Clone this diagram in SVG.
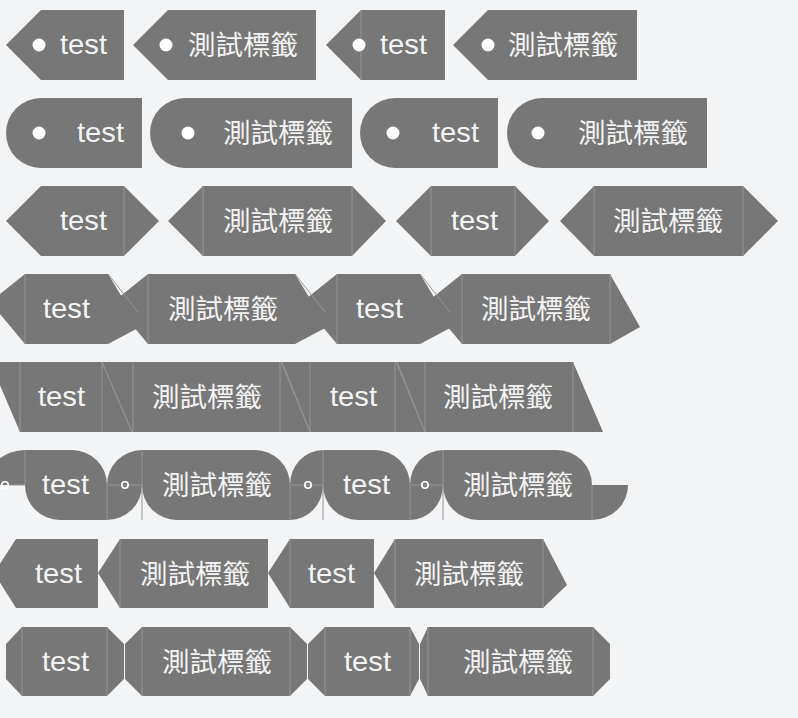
<svg xmlns="http://www.w3.org/2000/svg" width="798" height="718" viewBox="0 0 798 718">
<style>
.bg{fill:#f3f4f6}
.t{fill:#777777}
.sep{stroke:#979797;stroke-width:1;fill:none}
.dot{fill:#ffffff}
.ring{fill:none;stroke:#ffffff;stroke-width:1.6}
.en{fill:#f4f4f4;font-family:"Liberation Sans","Noto Sans",sans-serif;font-size:28px}
.zh{fill:#f4f4f4;font-family:"Noto Sans CJK TC","Noto Sans CJK SC",sans-serif;font-size:27px}
</style>
<rect class="bg" x="0" y="0" width="798" height="718"/>

<!-- Row 1 -->
<g id="r1t1"><polygon class="t" points="6,45 41,10 124,10 124,80 41,80"/><circle class="dot" cx="39" cy="45" r="6.5"/><text class="en" x="60" y="54" textLength="47" lengthAdjust="spacingAndGlyphs">test</text></g>
<g id="r1t2"><polygon class="t" points="133,45 168,10 316,10 316,80 168,80"/><circle class="dot" cx="166" cy="45" r="6.5"/><text class="zh" x="188" y="55" textLength="110" lengthAdjust="spacingAndGlyphs">測試標籤</text></g>
<g id="r1t3"><polygon class="t" points="326,45 361,10 445,10 445,80 361,80"/><line class="sep" x1="361" y1="10" x2="361" y2="80"/><circle class="dot" cx="359" cy="45" r="6.5"/><text class="en" x="380" y="54" textLength="47" lengthAdjust="spacingAndGlyphs">test</text></g>
<g id="r1t4"><polygon class="t" points="453,45 488,10 637,10 637,80 488,80"/><circle class="dot" cx="488" cy="45" r="6.5"/><text class="zh" x="508" y="55" textLength="110" lengthAdjust="spacingAndGlyphs">測試標籤</text></g>

<!-- Row 2 -->
<g id="r2t1"><path class="t" d="M41,98 H142 V168 H41 A35,35 0 0 1 41,98 Z"/><circle class="dot" cx="39" cy="133" r="6.5"/><text class="en" x="77" y="142" textLength="47" lengthAdjust="spacingAndGlyphs">test</text></g>
<g id="r2t2"><path class="t" d="M185,98 H352 V168 H185 A35,35 0 0 1 185,98 Z"/><circle class="dot" cx="188" cy="133" r="6.5"/><text class="zh" x="223" y="143" textLength="110" lengthAdjust="spacingAndGlyphs">測試標籤</text></g>
<g id="r2t3"><path class="t" d="M395,98 H498 V168 H395 A35,35 0 0 1 395,98 Z"/><circle class="dot" cx="393" cy="133" r="6.5"/><text class="en" x="432" y="142" textLength="47" lengthAdjust="spacingAndGlyphs">test</text></g>
<g id="r2t4"><path class="t" d="M542,98 H707 V168 H542 A35,35 0 0 1 542,98 Z"/><circle class="dot" cx="538" cy="133" r="6.5"/><text class="zh" x="578" y="143" textLength="110" lengthAdjust="spacingAndGlyphs">測試標籤</text></g>

<!-- Row 3 -->
<g id="r3t1"><polygon class="t" points="6,221 41,186 124,186 159,221 124,256 41,256"/><line class="sep" x1="124" y1="186" x2="124" y2="256"/><text class="en" x="60" y="230" textLength="47" lengthAdjust="spacingAndGlyphs">test</text></g>
<g id="r3t2"><polygon class="t" points="168,221 203,186 352,186 386,221 352,256 203,256"/><line class="sep" x1="203" y1="186" x2="203" y2="256"/><line class="sep" x1="352" y1="186" x2="352" y2="256"/><text class="zh" x="223" y="231" textLength="110" lengthAdjust="spacingAndGlyphs">測試標籤</text></g>
<g id="r3t3"><polygon class="t" points="396,221 431,186 515,186 549,221 515,256 431,256"/><line class="sep" x1="431" y1="186" x2="431" y2="256"/><line class="sep" x1="515" y1="186" x2="515" y2="256"/><text class="en" x="451" y="230" textLength="47" lengthAdjust="spacingAndGlyphs">test</text></g>
<g id="r3t4"><polygon class="t" points="560,221 594,186 743,186 778,221 743,256 594,256"/><line class="sep" x1="594" y1="186" x2="594" y2="256"/><line class="sep" x1="743" y1="186" x2="743" y2="256"/><text class="zh" x="613" y="231" textLength="110" lengthAdjust="spacingAndGlyphs">測試標籤</text></g>

<!-- Row 4 -->
<g id="r4t1"><polygon class="t" points="-10,302 25,274 108,274 140,327 108,344 25,344"/><line class="sep" x1="25" y1="274" x2="25" y2="344"/><text class="en" x="43" y="318" textLength="47" lengthAdjust="spacingAndGlyphs">test</text></g>
<g id="r4t2"><polygon class="t" points="113,302 148,274 295,274 327,327 295,344 148,344"/><line class="sep" x1="148" y1="274" x2="148" y2="344"/><line class="sep" x1="108" y1="274" x2="138" y2="312"/><text class="zh" x="168" y="319" textLength="110" lengthAdjust="spacingAndGlyphs">測試標籤</text></g>
<g id="r4t3"><polygon class="t" points="302,302 337,274 420,274 452,327 420,344 337,344"/><line class="sep" x1="337" y1="274" x2="337" y2="344"/><line class="sep" x1="295" y1="274" x2="325" y2="312"/><text class="en" x="356" y="318" textLength="47" lengthAdjust="spacingAndGlyphs">test</text></g>
<g id="r4t4"><polygon class="t" points="427,302 462,274 610,274 640,327 610,344 462,344"/><line class="sep" x1="462" y1="274" x2="462" y2="344"/><line class="sep" x1="420" y1="274" x2="450" y2="312"/><line class="sep" x1="610" y1="274" x2="610" y2="344"/><text class="zh" x="481" y="319" textLength="110" lengthAdjust="spacingAndGlyphs">測試標籤</text></g>

<!-- Row 5 -->
<g id="r5t1"><polygon class="t" points="-10,362 102,362 132,432 20,432"/><line class="sep" x1="20" y1="362" x2="20" y2="432"/><line class="sep" x1="102" y1="362" x2="102" y2="432"/><text class="en" x="38" y="406" textLength="47" lengthAdjust="spacingAndGlyphs">test</text></g>
<g id="r5t2"><polygon class="t" points="102,362 281,362 310,432 132,432"/><line class="sep" x1="102" y1="362" x2="132" y2="432"/><line class="sep" x1="133" y1="362" x2="133" y2="432"/><line class="sep" x1="280" y1="362" x2="280" y2="432"/><text class="zh" x="152" y="407" textLength="110" lengthAdjust="spacingAndGlyphs">測試標籤</text></g>
<g id="r5t3"><polygon class="t" points="281,362 396,362 425,432 310,432"/><line class="sep" x1="282" y1="362" x2="310" y2="432"/><line class="sep" x1="310" y1="362" x2="310" y2="432"/><line class="sep" x1="395" y1="362" x2="395" y2="432"/><text class="en" x="330" y="406" textLength="47" lengthAdjust="spacingAndGlyphs">test</text></g>
<g id="r5t4"><polygon class="t" points="396,362 573,362 603,432 425,432"/><line class="sep" x1="397" y1="362" x2="425" y2="432"/><line class="sep" x1="425" y1="362" x2="425" y2="432"/><line class="sep" x1="573" y1="362" x2="573" y2="432"/><text class="zh" x="443" y="407" textLength="110" lengthAdjust="spacingAndGlyphs">測試標籤</text></g>

<!-- Row 6 -->
<g id="r6t1"><path class="t" d="M-14,485 A39,35 0 0 1 25,450 V485 Z"/><path class="t" d="M25,450 H72 A35,35 0 0 1 107,485 V520 H60 A35,35 0 0 1 25,485 Z"/><path class="t" d="M107,485 H142 A35,35 0 0 1 107,520 Z"/><line class="sep" x1="8" y1="485" x2="25" y2="485"/><line class="sep" x1="25" y1="450" x2="25" y2="485"/><circle class="ring" cx="5" cy="485" r="3.2"/><text class="en" x="42" y="494" textLength="47" lengthAdjust="spacingAndGlyphs">test</text></g>
<g id="r6t2"><path class="t" d="M107,485 A35,35 0 0 1 142,450 V485 Z"/><path class="t" d="M142,450 H255 A35,35 0 0 1 290,485 V520 H177 A35,35 0 0 1 142,485 Z"/><path class="t" d="M290,485 H323 A33,35 0 0 1 290,520 Z"/><line class="sep" x1="107" y1="485" x2="142" y2="485"/><line class="sep" x1="142" y1="450" x2="142" y2="520"/><line class="sep" x1="107" y1="485" x2="107" y2="520"/><circle class="ring" cx="125" cy="485" r="3.2"/><text class="zh" x="162" y="495" textLength="110" lengthAdjust="spacingAndGlyphs">測試標籤</text></g>
<g id="r6t3"><path class="t" d="M290,485 A33,35 0 0 1 323,450 V485 Z"/><path class="t" d="M323,450 H375 A35,35 0 0 1 410,485 V520 H358 A35,35 0 0 1 323,485 Z"/><path class="t" d="M410,485 H443 A33,35 0 0 1 410,520 Z"/><line class="sep" x1="290" y1="485" x2="323" y2="485"/><line class="sep" x1="323" y1="450" x2="323" y2="520"/><line class="sep" x1="290" y1="485" x2="290" y2="520"/><circle class="ring" cx="308" cy="485" r="3.2"/><text class="en" x="343" y="494" textLength="47" lengthAdjust="spacingAndGlyphs">test</text></g>
<g id="r6t4"><path class="t" d="M410,485 A33,35 0 0 1 443,450 V485 Z"/><path class="t" d="M443,450 H557 A35,35 0 0 1 592,485 V520 H478 A35,35 0 0 1 443,485 Z"/><path class="t" d="M592,485 H628 A36,35 0 0 1 592,520 Z"/><line class="sep" x1="410" y1="485" x2="443" y2="485"/><line class="sep" x1="443" y1="450" x2="443" y2="520"/><line class="sep" x1="410" y1="485" x2="410" y2="520"/><line class="sep" x1="592" y1="485" x2="592" y2="520"/><circle class="ring" cx="425" cy="485" r="3.2"/><text class="zh" x="463" y="495" textLength="110" lengthAdjust="spacingAndGlyphs">測試標籤</text></g>

<!-- Row 7 -->
<g id="r7t1"><polygon class="t" points="-6,573 16,539 98,539 98,608 16,608"/><text class="en" x="35" y="583" textLength="47" lengthAdjust="spacingAndGlyphs">test</text></g>
<g id="r7t2"><polygon class="t" points="98,573 120,539 268,539 268,608 120,608"/><line class="sep" x1="120" y1="539" x2="120" y2="608"/><text class="zh" x="140" y="584" textLength="110" lengthAdjust="spacingAndGlyphs">測試標籤</text></g>
<g id="r7t3"><polygon class="t" points="268,573 290,539 374,539 374,608 290,608"/><line class="sep" x1="290" y1="539" x2="290" y2="608"/><text class="en" x="308" y="583" textLength="47" lengthAdjust="spacingAndGlyphs">test</text></g>
<g id="r7t4"><polygon class="t" points="374,573 395,539 543,539 567,585 543,608 395,608"/><line class="sep" x1="395" y1="539" x2="395" y2="608"/><line class="sep" x1="543" y1="539" x2="543" y2="608"/><text class="zh" x="414" y="584" textLength="110" lengthAdjust="spacingAndGlyphs">測試標籤</text></g>

<!-- Row 8 -->
<g id="r8t1"><polygon class="t" points="22,627 107,627 124,644 124,679 107,696 22,696 6,679 6,644"/><line class="sep" x1="22" y1="627" x2="22" y2="696"/><line class="sep" x1="107" y1="627" x2="107" y2="696"/><text class="en" x="42" y="671" textLength="47" lengthAdjust="spacingAndGlyphs">test</text></g>
<g id="r8t2"><polygon class="t" points="142,627 290,627 307,644 307,679 290,696 142,696 125,679 125,644"/><line class="sep" x1="142" y1="627" x2="142" y2="696"/><line class="sep" x1="290" y1="627" x2="290" y2="696"/><text class="zh" x="162" y="672" textLength="110" lengthAdjust="spacingAndGlyphs">測試標籤</text></g>
<g id="r8t3"><polygon class="t" points="325,627 410,627 419,644 419,679 410,696 325,696 308,679 308,644"/><line class="sep" x1="325" y1="627" x2="325" y2="696"/><line class="sep" x1="410" y1="627" x2="410" y2="696"/><text class="en" x="344" y="671" textLength="47" lengthAdjust="spacingAndGlyphs">test</text></g>
<g id="r8t4"><polygon class="t" points="428,627 593,627 610,644 610,679 593,696 428,696 420,679 420,644"/><line class="sep" x1="428" y1="627" x2="428" y2="696"/><line class="sep" x1="593" y1="627" x2="593" y2="696"/><text class="zh" x="463" y="672" textLength="110" lengthAdjust="spacingAndGlyphs">測試標籤</text></g>
</svg>
